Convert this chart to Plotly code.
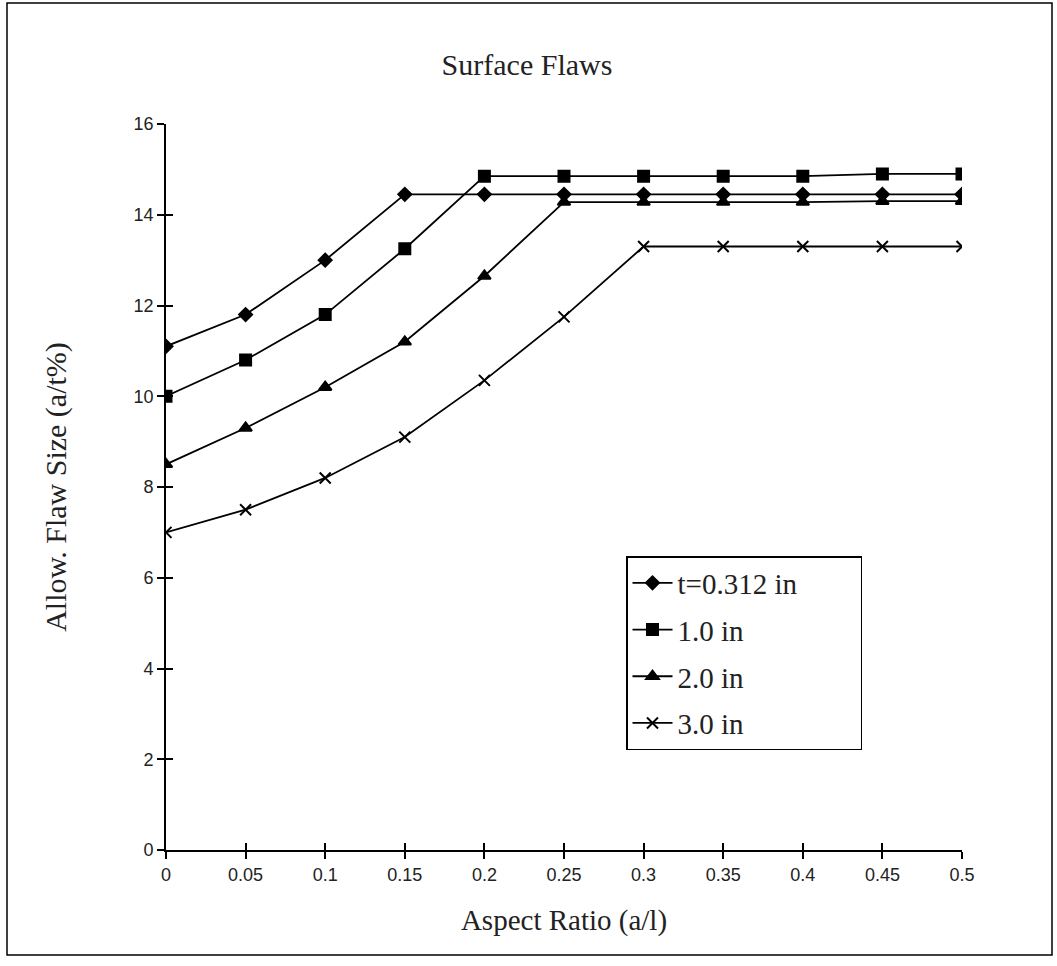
import plotly.graph_objects as go

aspect_ratio = [0, 0.05, 0.1, 0.15, 0.2, 0.25, 0.3, 0.35, 0.4, 0.45, 0.5]
t_0312 = [11.1, 11.8, 13.0, 14.45, 14.45, 14.45, 14.45, 14.45, 14.45, 14.45, 14.45]
t_10 = [10.0, 10.8, 11.8, 13.25, 14.85, 14.85, 14.85, 14.85, 14.85, 14.9, 14.9]
t_20 = [8.5, 9.3, 10.2, 11.2, 12.65, 14.28, 14.28, 14.28, 14.28, 14.3, 14.3]
t_30 = [7.0, 7.5, 8.2, 9.1, 10.35, 11.75, 13.3, 13.3, 13.3, 13.3, 13.3]

series_names = ["t=0.312 in", "1.0 in", "2.0 in", "3.0 in"]
series_values = [t_0312, t_10, t_20, t_30]
symbols = ["diamond", "square", "triangle-up", "x-thin"]
sizes = [10, 11, 11, 11]

x_ticks = [0, 0.05, 0.1, 0.15, 0.2, 0.25, 0.3, 0.35, 0.4, 0.45, 0.5]
x_tick_text = ["0", "0.05", "0.1", "0.15", "0.2", "0.25", "0.3", "0.35", "0.4", "0.45", "0.5"]
y_ticks = [0, 2, 4, 6, 8, 10, 12, 14, 16]

PAD = "\u00a0" * 8  # widens the legend box like the original

fig = go.Figure()
for i, (name, vals) in enumerate(zip(series_names, series_values)):
    fig.add_trace(go.Scatter(
        x=aspect_ratio, y=vals, name=name + (PAD if i == 0 else ""),
        mode="lines+markers", legendgroup=f"g{i}",
        line=dict(color="black", width=1.8),
        marker=dict(symbol=symbols[i], size=sizes[i], color="black",
                    line=dict(color="black", width=2)),
    ))

# invisible trace on overlay axes for inner tick halves
fig.add_trace(go.Scatter(x=[0, 0.5], y=[0, 16], xaxis="x2", yaxis="y2",
                         mode="markers", marker=dict(opacity=0), showlegend=False,
                         hoverinfo="skip"))

tickfont = dict(family="Liberation Sans, Arial", size=18, color="#222")
serif = "Liberation Serif, Times New Roman"

fig.update_layout(
    width=1057, height=966,
    paper_bgcolor="white", plot_bgcolor="white",
    margin=dict(l=166, r=95, t=124, b=116),
    title=dict(text="Surface Flaws", x=(527-166)/796, xref="paper", xanchor="center",
               y=1 - 64/966, yanchor="middle",
               font=dict(family=serif, size=30, color="#222")),
    xaxis=dict(range=[0, 0.5], tickvals=x_ticks, ticktext=x_tick_text,
               ticks="outside", ticklen=7, tickwidth=1.5, tickcolor="black",
               showline=True, linecolor="black", linewidth=1.8,
               showgrid=False, zeroline=False, tickfont=tickfont,
               title=dict(text="Aspect Ratio (a/l)", standoff=26,
                          font=dict(family=serif, size=29, color="#222"))),
    yaxis=dict(range=[0, 16], tickvals=y_ticks,
               ticks="outside", ticklen=7, tickwidth=1.5, tickcolor="black",
               showline=True, linecolor="black", linewidth=1.8,
               showgrid=False, zeroline=False, tickfont=tickfont,
               title=dict(text="Allow. Flaw Size (a/t%)", standoff=58,
                          font=dict(family=serif, size=30, color="#222"))),
    xaxis2=dict(range=[0, 0.5], overlaying="x", anchor="y2", side="bottom",
                tickvals=x_ticks, ticks="inside", ticklen=7, tickwidth=1.5,
                tickcolor="black", showticklabels=False, showgrid=False,
                zeroline=False, showline=False),
    yaxis2=dict(range=[0, 16], overlaying="y", anchor="x2", side="left",
                tickvals=y_ticks, ticks="inside", ticklen=7, tickwidth=1.5,
                tickcolor="black", showticklabels=False, showgrid=False,
                zeroline=False, showline=False),
    legend=dict(x=(626-166)/796, y=(850-556)/726, xanchor="left", yanchor="top",
                bgcolor="white", bordercolor="black", borderwidth=1.5,
                font=dict(family=serif, size=29, color="#222"),
                traceorder="grouped", tracegroupgap=6,
                itemwidth=40),
    showlegend=True,
    shapes=[dict(type="rect", xref="paper", yref="paper",
                 x0=(7-166)/796, x1=(1052-166)/796,
                 y0=(850-955)/726, y1=(850-3)/726,
                 line=dict(color="black", width=1.5), fillcolor="rgba(0,0,0,0)",
                 layer="below")],
)

fig.write_html("out.html")
